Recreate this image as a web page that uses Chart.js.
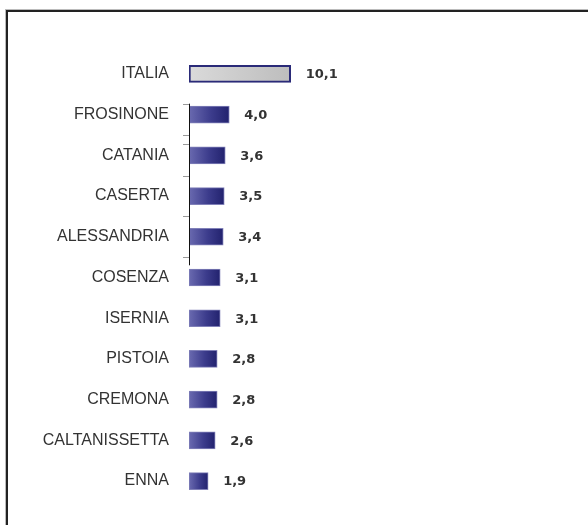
<!DOCTYPE html>
<html>
<head>
<meta charset="utf-8">
<script src="https://cdn.jsdelivr.net/npm/chart.js@4"></script>
<style>
  body { margin: 0; background: #fff; }
  #wrap { position: relative; width: 588px; height: 525px; overflow: hidden; }
  #frame {
    position: absolute; left: 6px; top: 10px; width: 700px; height: 700px;
    border-top: 2px solid #222; border-left: 2px solid #222;
    box-shadow: -1px -1px 0 #bbb;
  }
  canvas { position: absolute; left: 0; top: 0; }
</style>
</head>
<body>
<div id="wrap">
  <div id="frame"></div>
  <canvas id="grafico" width="588" height="525"></canvas>
</div>
<script>
// province (e media nazionale)
const categorie = ['ITALIA', 'FROSINONE', 'CATANIA', 'CASERTA', 'ALESSANDRIA', 'COSENZA',
                   'ISERNIA', 'PISTOIA', 'CREMONA', 'CALTANISSETTA', 'ENNA'];
const valori = [10.1, 4.0, 3.6, 3.5, 3.4, 3.1, 3.1, 2.8, 2.8, 2.6, 1.9];
const etichette = ['10,1', '4,0', '3,6', '3,5', '3,4', '3,1', '3,1', '2,8', '2,8', '2,6', '1,9'];

function sfumatura(context) {
    const chart = context.chart;
    const x = chart.scales.x;
    const i = context.dataIndex;
    if (!x || !chart.chartArea) return '#3a3a88';
    const x0 = x.getPixelForValue(0);
    const x1 = x.getPixelForValue(valori[i]);
    const g = chart.ctx.createLinearGradient(x0, 0, x1, 0);
    if (i === 0) {
        g.addColorStop(0, '#dadada');
        g.addColorStop(1, '#bdbdbd');
    } else {
        g.addColorStop(0, '#6a6ab0');
        g.addColorStop(0.55, '#3c3c8c');
        g.addColorStop(1, '#22226e');
    }
    return g;
}

// scrive il valore accanto ad ogni barra
const valoriPlugin = {
    id: 'valori',
    afterDatasetsDraw(chart) {
        const ctx = chart.ctx;
        const meta = chart.getDatasetMeta(0);
        ctx.save();
        ctx.font = 'bold 13px "DejaVu Sans", Verdana, sans-serif';
        ctx.fillStyle = '#333';
        ctx.textAlign = 'left';
        ctx.textBaseline = 'middle';
        meta.data.forEach((bar, i) => {
            ctx.fillText(etichette[i], bar.x + 15, bar.y + 1);
        });
        ctx.restore();
    }
};

// pezzo di asse rimasto nell'originale
const assePlugin = {
    id: 'asse',
    afterDatasetsDraw(chart) {
        const ctx = chart.ctx;
        const y = chart.scales.y;
        const x0 = chart.scales.x.getPixelForValue(0);
        const top = y.getPixelForValue(0.73);
        const bottom = y.getPixelForValue(4.7);
        ctx.save();
        ctx.strokeStyle = '#111';
        ctx.lineWidth = 1;
        ctx.beginPath();
        ctx.moveTo(x0 + 0.5, top);
        ctx.lineTo(x0 + 0.5, bottom);
        ctx.stroke();
        ctx.strokeStyle = '#999';
        [0.73, 1.5, 1.73, 2.5, 3.5, 4.5].forEach(v => {
            const py = Math.round(y.getPixelForValue(v)) + 0.5;
            ctx.beginPath();
            ctx.moveTo(x0 - 6, py);
            ctx.lineTo(x0, py);
            ctx.stroke();
        });
        ctx.restore();
    }
};

new Chart(document.getElementById('grafico'), {
    type: 'bar',
    data: {
        labels: categorie,
        datasets: [{
            data: valori,
            backgroundColor: sfumatura,
            borderColor: valori.map((v, i) => i === 0 ? '#2a2a78' : '#8080b8'),
            borderWidth: valori.map((v, i) => i === 0 ? 2 : 1),
            borderSkipped: false,
            barThickness: 17
        }]
    },
    options: {
        indexAxis: 'y',
        responsive: false,
        animation: false,
        layout: { padding: { top: 53.6, bottom: 23.6, right: 99, left: 0 } },
        plugins: { legend: { display: false }, tooltip: { enabled: false } },
        scales: {
            x: { display: false, min: 0, max: 29.8 },
            y: {
                grid: { display: false, drawTicks: false },
                border: { display: false },
                ticks: {
                    padding: 20,
                    color: '#333',
                    font: { family: '"Liberation Sans", Arial, sans-serif', size: 16 }
                },
                afterFit(scale) {
                    scale.width = 189;
                    scale.paddingTop = 0;
                    scale.paddingBottom = 0;
                }
            }
        }
    },
    plugins: [valoriPlugin, assePlugin]
});
</script>
</body>
</html>
